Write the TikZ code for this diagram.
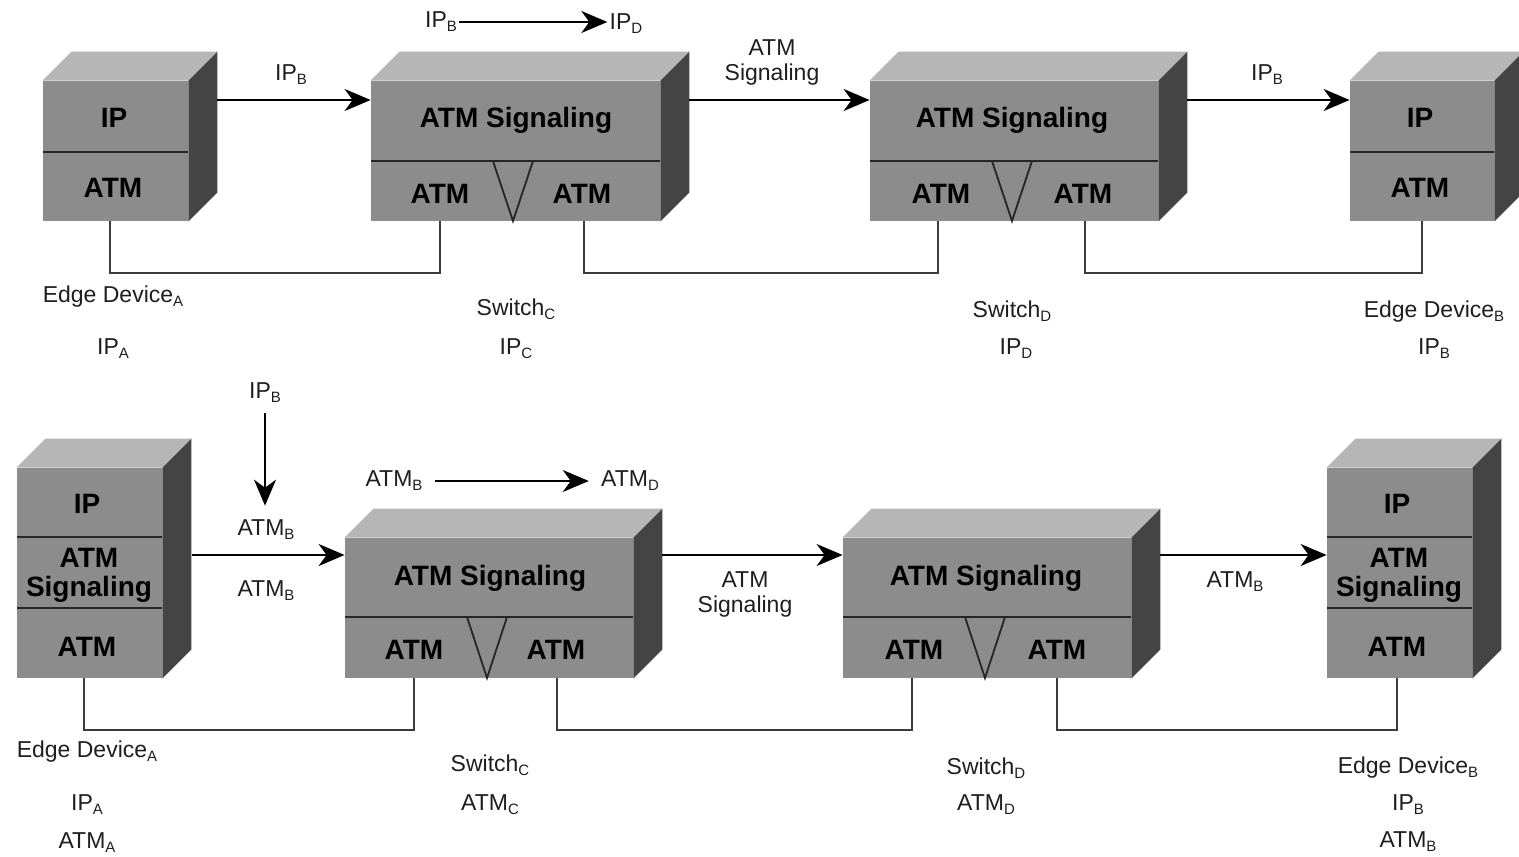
\documentclass[tikz,border=0pt]{standalone}
\usepackage{fontspec}
\setmainfont{Liberation Sans}
\usetikzlibrary{arrows.meta,fit}

\definecolor{facefront}{HTML}{8C8C8C}
\definecolor{facetop}{HTML}{B6B6B6}
\definecolor{faceside}{HTML}{444444}
\definecolor{ink}{HTML}{1E1E1E}
\definecolor{wirec}{HTML}{3C3C3C}

% lowered, smaller index letter
\newcommand{\lsub}[1]{\raisebox{-2pt}{\fontsize{7.5}{8}\selectfont #1}}

\tikzset{
  front/.style={fill=facefront, inner sep=0pt, draw=none},
  layertxt/.style={font=\bfseries\fontsize{14}{15.5}\selectfont, text=black, align=center, inner sep=0pt},
  lbl/.style={font=\fontsize{11.5}{12.5}\selectfont, text=ink, align=center, inner sep=0pt},
  divider/.style={draw=black!85, line width=1.3pt},
  vmark/.style={draw=black!85, line width=0.9pt},
  wire/.style={draw=wirec, line width=1pt},
  flow/.style={draw=black, line width=1pt, -{Stealth[length=13pt,width=11pt,inset=4pt]}},
}

% three-sided block: name, x1, y1, x2, y2 of the front face
\newcommand{\devbox}[5]{%
  \node[front, fit={(#2,#3)(#4,#5)}] (#1) {};
  \fill[facetop] (#1.north west) -- ++(29,-29) -- ([shift={(29,-29)}]#1.north east) -- (#1.north east) -- cycle;
  \fill[faceside] (#1.north east) -- ++(29,-29) -- ([shift={(29,-29)}]#1.south east) -- (#1.south east) -- cycle;
}

\begin{document}
\begin{tikzpicture}[x=0.5pt, y=-0.5pt]
\useasboundingbox (0,0) rectangle (1519,856);

% ================= upper row: IP routing =================
\devbox{tA}{43}{81}{188}{221}
\draw[divider] (43,152) -- (188,152);
\node[layertxt] (tA1) at (114,118) {IP};
\node[layertxt] (tA2) at (113,188) {ATM};

\devbox{tC}{371}{81}{660}{221}
\draw[divider] (371,161) -- (660,161);
\draw[vmark] (493,161) -- (513,221) -- (533,161);
\node[layertxt] (tC1) at (516,120) {ATM Signaling};
\node[layertxt] (tC2) at (440,194) {ATM};
\node[layertxt] (tC3) at (582,194) {ATM};

\devbox{tD}{870}{81}{1158}{221}
\draw[divider] (870,161) -- (1158,161);
\draw[vmark] (992,161) -- (1012,221) -- (1032,161);
\node[layertxt] (tD1) at (1012,120) {ATM Signaling};
\node[layertxt] (tD2) at (941,194) {ATM};
\node[layertxt] (tD3) at (1083,194) {ATM};

\devbox{tB}{1350}{81}{1494}{221}
\draw[divider] (1350,152) -- (1494,152);
\node[layertxt] (tB1) at (1420,118) {IP};
\node[layertxt] (tB2) at (1420,188) {ATM};

% flows between the blocks
\coordinate (tA-out) at (217,100);
\coordinate (tC-out) at (689,100);
\coordinate (tD-out) at (1187,100);
\draw[flow] (tA-out) -- (tA-out -| tC.west);
\draw[flow] (tC-out) -- (tC-out -| tD.west);
\draw[flow] (tD-out) -- (tD-out -| tB.west);
\node[lbl] (tf1) at (291,75) {IP\lsub{B}};
\node[lbl] (tf2) at (772,62) {ATM\\Signaling};
\node[lbl] (tf3) at (1267,75) {IP\lsub{B}};

\node[lbl, inner xsep=1pt] (tipB) at (441,22) {IP\lsub{B}};
\node[lbl, inner xsep=1pt] (tipD) at (626,24) {IP\lsub{D}};
\draw[flow] (tipB.east) -- (tipB.east -| tipD.west);

% physical links
\coordinate (tA-p) at (110,221);
\coordinate (tC-p1) at (440,221);
\coordinate (tC-p2) at (584,221);
\coordinate (tD-p1) at (938,221);
\coordinate (tD-p2) at (1085,221);
\coordinate (tB-p) at (1422,221);
\draw[wire] (tA-p) -- ++(0,52) -| (tC-p1);
\draw[wire] (tC-p2) -- ++(0,52) -| (tD-p1);
\draw[wire] (tD-p2) -- ++(0,52) -| (tB-p);

% device names
\node[lbl] (tn1) at (113,297) {Edge Device\lsub{A}};
\node[lbl] (tn2) at (113,349) {IP\lsub{A}};
\node[lbl] (tn3) at (516,309) {Switch\lsub{C}};
\node[lbl] (tn4) at (516,349) {IP\lsub{C}};
\node[lbl] (tn5) at (1012,311) {Switch\lsub{D}};
\node[lbl] (tn6) at (1016,349) {IP\lsub{D}};
\node[lbl] (tn7) at (1434,312) {Edge Device\lsub{B}};
\node[lbl] (tn8) at (1434,349) {IP\lsub{B}};

% ================= lower row: ATM signaling =================
\devbox{bA}{17}{468}{162}{678}
\draw[divider] (17,537) -- (162,537);
\draw[divider] (17,608) -- (162,608);
\node[layertxt] (bA1) at (87,504) {IP};
\node[layertxt, font=\bfseries\fontsize{14}{14.5}\selectfont] (bA2) at (89,575) {ATM\\Signaling};
\node[layertxt] (bA3) at (87,647) {ATM};

\devbox{bC}{345}{538}{633}{678}
\draw[divider] (345,617) -- (633,617);
\draw[vmark] (467,617) -- (487,678) -- (507,617);
\node[layertxt] (bC1) at (490,578) {ATM Signaling};
\node[layertxt] (bC2) at (414,650) {ATM};
\node[layertxt] (bC3) at (556,650) {ATM};

\devbox{bD}{843}{538}{1131}{678}
\draw[divider] (843,617) -- (1131,617);
\draw[vmark] (965,617) -- (985,678) -- (1005,617);
\node[layertxt] (bD1) at (986,578) {ATM Signaling};
\node[layertxt] (bD2) at (914,650) {ATM};
\node[layertxt] (bD3) at (1057,650) {ATM};

\devbox{bB}{1327}{468}{1472}{678}
\draw[divider] (1327,537) -- (1472,537);
\draw[divider] (1327,608) -- (1472,608);
\node[layertxt] (bB1) at (1397,504) {IP};
\node[layertxt, font=\bfseries\fontsize{14}{14.5}\selectfont] (bB2) at (1399,575) {ATM\\Signaling};
\node[layertxt] (bB3) at (1397,647) {ATM};

% flows between the blocks
\coordinate (bA-out) at (192,555);
\coordinate (bC-out) at (662,555);
\coordinate (bD-out) at (1160,555);
\draw[flow] (bA-out) -- (bA-out -| bC.west);
\draw[flow] (bC-out) -- (bC-out -| bD.west);
\draw[flow] (bD-out) -- (bD-out -| bB.west);
\node[lbl] (bf1) at (266,530) {ATM\lsub{B}};
\node[lbl] (bf2) at (266,591) {ATM\lsub{B}};
\node[lbl] (bf3) at (745,594) {ATM\\Signaling};
\node[lbl] (bf4) at (1235,582) {ATM\lsub{B}};

\node[lbl, inner ysep=5pt] (bipB) at (265,393) {IP\lsub{B}};
\draw[flow, shorten >=7pt] (bipB.south) -- (bipB.south |- bf1.north);

\node[lbl, inner xsep=6pt] (batmB) at (394,481) {ATM\lsub{B}};
\node[lbl, inner xsep=6pt] (batmD) at (630,481) {ATM\lsub{D}};
\draw[flow] (batmB.east) -- (batmB.east -| batmD.west);

% physical links
\coordinate (bA-p) at (84,678);
\coordinate (bC-p1) at (414,678);
\coordinate (bC-p2) at (557,678);
\coordinate (bD-p1) at (912,678);
\coordinate (bD-p2) at (1057,678);
\coordinate (bB-p) at (1397,678);
\draw[wire] (bA-p) -- ++(0,52) -| (bC-p1);
\draw[wire] (bC-p2) -- ++(0,52) -| (bD-p1);
\draw[wire] (bD-p2) -- ++(0,52) -| (bB-p);

% device names
\node[lbl] (bn1) at (87,752) {Edge Device\lsub{A}};
\node[lbl] (bn2) at (87,805) {IP\lsub{A}};
\node[lbl] (bn3) at (87,843) {ATM\lsub{A}};
\node[lbl] (bn4) at (490,765) {Switch\lsub{C}};
\node[lbl] (bn5) at (490,805) {ATM\lsub{C}};
\node[lbl] (bn6) at (986,768) {Switch\lsub{D}};
\node[lbl] (bn7) at (986,805) {ATM\lsub{D}};
\node[lbl] (bn8) at (1408,768) {Edge Device\lsub{B}};
\node[lbl] (bn9) at (1408,805) {IP\lsub{B}};
\node[lbl] (bn10) at (1408,842) {ATM\lsub{B}};
\end{tikzpicture}
\end{document}
